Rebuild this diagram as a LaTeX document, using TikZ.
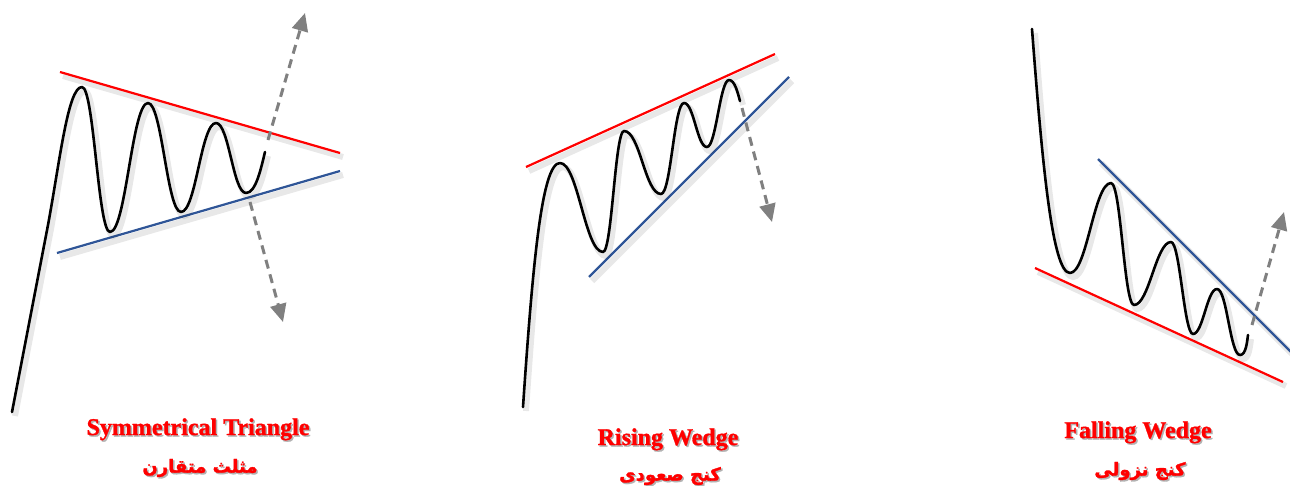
\documentclass[tikz,border=0pt]{standalone}
\usepackage{fontspec}
\setmainfont{Liberation Serif}[BoldFeatures={FakeBold=1.2}]
\newfontfamily\arabicfont[Script=Arabic, BoldFeatures={FakeBold=1.5}]{DejaVu Sans}
\TeXXeTstate=1
\usetikzlibrary{arrows.meta}
\definecolor{tred}{RGB}{255,0,0}
\definecolor{tblue}{RGB}{47,85,151}
\definecolor{tgray}{RGB}{128,128,128}
\tikzset{
  shadowed/.style={preaction={draw, black, draw opacity=0.09, line width=6pt, transform canvas={shift={(3pt,-4pt)}}}},
  price/.style={shadowed, line width=2.6pt, black, line join=round, line cap=round},
  resist/.style={shadowed, line width=2.2pt, tred},
  support/.style={shadowed, line width=2.2pt, tblue},
  breakout/.style={line width=3pt, tgray, dash pattern=on 9pt off 6pt, -{Triangle[length=18pt,width=16pt]}},
  entitle/.style={text=tred, font=\bfseries\fontsize{24}{28}\selectfont, anchor=base, inner sep=0pt},
  fatitle/.style={text=tred, font=\arabicfont\bfseries\fontsize{18}{20}\selectfont, inner sep=0pt},
  tshadow/.style={text=black!30},
}
\begin{document}
\begin{tikzpicture}[x=1pt, y=-1pt]
\useasboundingbox[fill=white] (0,0) rectangle (1290,485);

% ---------- Panel 1: Symmetrical Triangle ----------
\draw[resist] (60,72) -- (340,153);
\draw[support] (57,253) -- (340,171);
\draw[price] (12,412) -- (48,225) .. controls (60,160) and (68,87) .. (82,87)
  .. controls +(12,0) and +(-12,0) .. (110,232)
  .. controls +(16,0) and +(-16,0) .. (148,103)
  .. controls +(14,0) and +(-14,0) .. (181,212)
  .. controls +(15,0) and +(-15,0) .. (216,123)
  .. controls +(13,0) and +(-13,0) .. (246,193)
  .. controls +(10,0) and (261,168) .. (265,152);
\coordinate (p1a) at (268,140);
\coordinate (p1b) at (305,13);
\coordinate (p1c) at (250,202);
\coordinate (p1d) at (283,322);
\draw[breakout] (p1a) -- (p1b);
\draw[breakout] (p1c) -- (p1d);

% ---------- Panel 2: Rising Wedge ----------
\draw[resist] (526,167) -- (775,54);
\draw[support] (589,277) -- (789,77);
\draw[price] (523,407) .. controls (533,260) and (542,163) .. (560,163)
  .. controls +(18,0) and +(-18,0) .. (603,252)
  .. controls +(9,0) and +(-9,0) .. (624,131)
  .. controls +(16,0) and +(-16,0) .. (661,194)
  .. controls +(10,0) and +(-10,0) .. (684,103)
  .. controls +(10,0) and +(-10,0) .. (707,147)
  .. controls +(9,0) and +(-9,0) .. (729,80)
  .. controls +(6,0) and (738,94) .. (740,101);
\coordinate (p2a) at (742,108);
\coordinate (p2b) at (772,222);
\draw[breakout] (p2a) -- (p2b);

% ---------- Panel 3: Falling Wedge ----------
\draw[support] (1098,159) -- (1292,353);
\draw[resist] (1035,268) -- (1283,382);
\draw[price] (1032,29) .. controls (1042,160) and (1052,273) .. (1070,273)
  .. controls +(17,0) and +(-17,0) .. (1111,183)
  .. controls +(10,0) and +(-10,0) .. (1134,305)
  .. controls +(15,0) and +(-15,0) .. (1171,242)
  .. controls +(9,0) and +(-9,0) .. (1193,334)
  .. controls +(10,0) and +(-10,0) .. (1217,289)
  .. controls +(10,0) and +(-10,0) .. (1240,355)
  .. controls +(6,0) and (1247,342) .. (1248,335);
\coordinate (p3a) at (1252,325);
\coordinate (p3b) at (1284,212);
\draw[breakout] (p3a) -- (p3b);

% ---------- Labels ----------
\node[entitle, tshadow] (t1s) at (199.5,436.5) {Symmetrical Triangle};
\node[entitle] (t1) at (198,435) {Symmetrical Triangle};
\node[fatitle, tshadow] (f1s) at (201.5,469.5) {\beginR مثلث متقارن\endR};
\node[fatitle] (f1) at (200,468) {\beginR مثلث متقارن\endR};

\node[entitle, tshadow] (t2s) at (669.5,446.5) {Rising Wedge};
\node[entitle] (t2) at (668,445) {Rising Wedge};
\node[fatitle, tshadow] (f2s) at (671.5,477.5) {\beginR کنج صعودی\endR};
\node[fatitle] (f2) at (670,476) {\beginR کنج صعودی\endR};

\node[entitle, tshadow] (t3s) at (1139.5,439.5) {Falling Wedge};
\node[entitle] (t3) at (1138,438) {Falling Wedge};
\node[fatitle, tshadow] (f3s) at (1141.5,472.5) {\beginR کنج نزولی\endR};
\node[fatitle] (f3) at (1140,471) {\beginR کنج نزولی\endR};
\end{tikzpicture}
\end{document}
